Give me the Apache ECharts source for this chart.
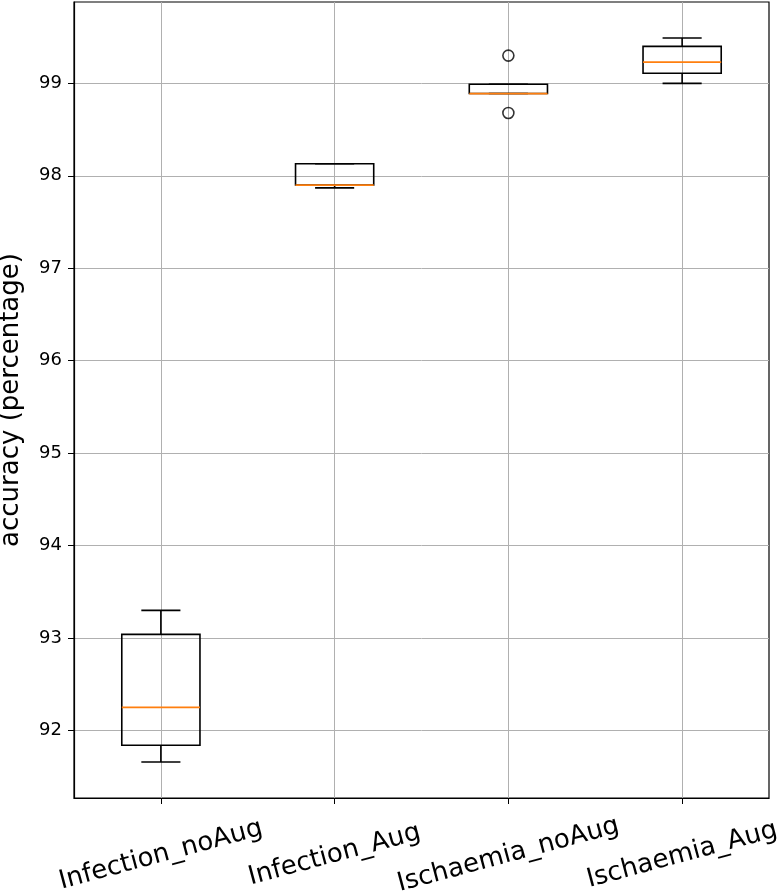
<!DOCTYPE html>
<html>
<head>
<meta charset="utf-8">
<script src="https://cdn.jsdelivr.net/npm/echarts@6/dist/echarts.min.js"></script>
<style>html,body{margin:0;padding:0;background:#fff;}#chart{width:777px;height:895px;}</style>
</head>
<body>
<div id="chart"></div>
<script>
const categories = ['Infection_noAug', 'Infection_Aug', 'Ischaemia_noAug', 'Ischaemia_Aug'];
const whiskerLow  = [91.66, 97.87, 98.89, 99.00];
const q1          = [91.84, 97.90, 98.89, 99.11];
const median      = [92.25, 97.90, 98.89, 99.23];
const q3          = [93.04, 98.13, 98.99, 99.40];
const whiskerHigh = [93.30, 98.13, 98.99, 99.49];
const outliers    = [[3, 99.30], [3, 98.68]];
const yTicks = [92, 93, 94, 95, 96, 97, 98, 99];
const xTicks = [1, 2, 3, 4];

const boxData = categories.map((c, i) => [i + 1, whiskerLow[i], q1[i], median[i], q3[i], whiskerHigh[i]]);

const chart = echarts.init(document.getElementById('chart'));
const FONT = 'DejaVu Sans';
chart.setOption({
  animation: false,
  grid: { left: 74, right: 8, top: 2, bottom: 97, show: true, borderColor: '#000', borderWidth: 1.2,
          containLabel: false, outerBoundsMode: 'none' },
  xAxis: {
    type: 'value', min: 0.5, max: 4.5,
    axisLine: { show: true, onZero: false, lineStyle: { color: '#000', width: 1.2 } },
    axisTick: { show: true, length: 6, customValues: xTicks, lineStyle: { color: '#000' } },
    splitLine: { show: true, lineStyle: { color: '#b0b0b0', width: 1 } },
    axisLabel: {
      customValues: xTicks, rotate: 15, align: 'center', verticalAlign: 'middle', margin: 57,
      fontFamily: FONT, fontSize: 26, color: '#000',
      formatter: v => categories[Math.round(v) - 1] || ''
    }
  },
  yAxis: {
    type: 'value', min: 91.27, max: 99.88,
    name: 'accuracy (percentage)', nameLocation: 'middle', nameGap: 50,
    nameTextStyle: { fontFamily: FONT, fontSize: 26, color: '#000' },
    axisLine: { show: true, onZero: false, lineStyle: { color: '#000', width: 1.2 } },
    axisTick: { show: true, length: 6, customValues: yTicks, lineStyle: { color: '#000' } },
    splitLine: { show: true, lineStyle: { color: '#b0b0b0', width: 1 } },
    axisLabel: { customValues: yTicks, margin: 12, fontFamily: FONT, fontSize: 18, color: '#000' }
  },
  series: [
    {
      type: 'custom',
      data: boxData,
      encode: { x: 0, y: [1, 2, 3, 4, 5] },
      renderItem: function (params, api) {
        const x = api.value(0);
        const half = api.size([0.45, 0])[0] / 2;
        const capHalf = half / 2;
        const pLow = api.coord([x, api.value(1)]);
        const pQ1 = api.coord([x, api.value(2)]);
        const pMed = api.coord([x, api.value(3)]);
        const pQ3 = api.coord([x, api.value(4)]);
        const pHigh = api.coord([x, api.value(5)]);
        const cx = pQ1[0];
        const black = { stroke: '#000', lineWidth: 1.6, fill: null };
        return {
          type: 'group',
          children: [
            { type: 'line', shape: { x1: cx, y1: pQ1[1], x2: cx, y2: pLow[1] }, style: black },
            { type: 'line', shape: { x1: cx, y1: pQ3[1], x2: cx, y2: pHigh[1] }, style: black },
            { type: 'line', shape: { x1: cx - capHalf, y1: pLow[1], x2: cx + capHalf, y2: pLow[1] }, style: black },
            { type: 'line', shape: { x1: cx - capHalf, y1: pHigh[1], x2: cx + capHalf, y2: pHigh[1] }, style: black },
            { type: 'rect', shape: { x: cx - half, y: pQ3[1], width: half * 2, height: pQ1[1] - pQ3[1] }, style: { stroke: '#000', lineWidth: 1.6, fill: 'rgba(0,0,0,0)' } },
            { type: 'line', shape: { x1: cx - half, y1: pMed[1], x2: cx + half, y2: pMed[1] }, style: { stroke: '#ff7f0e', lineWidth: 1.8 } }
          ]
        };
      }
    },
    {
      type: 'scatter',
      data: outliers,
      symbol: 'circle',
      symbolSize: 11,
      itemStyle: { color: 'rgba(0,0,0,0)', borderColor: '#000', borderWidth: 1.6 }
    }
  ]
});
</script>
</body>
</html>
